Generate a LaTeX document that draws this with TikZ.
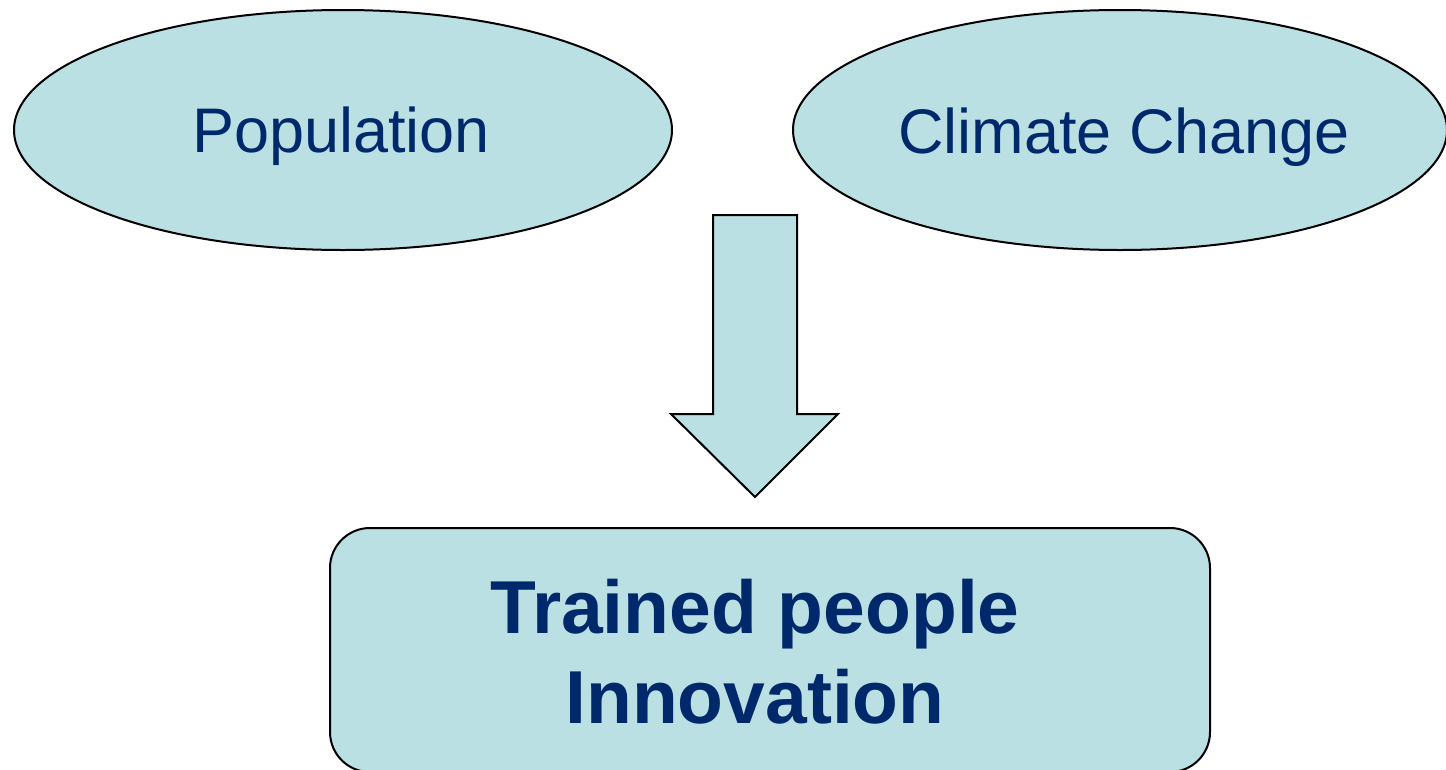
\documentclass[tikz,border=0pt]{standalone}
\usepackage{fontspec}
\setmainfont{Liberation Sans}
\usetikzlibrary{shapes.geometric}
\definecolor{boxfill}{RGB}{186,224,227}
\definecolor{inkblue}{RGB}{0,41,108}
\begin{document}
\begin{tikzpicture}[x=1pt,y=-1pt,
  bubble/.style={ellipse,draw=black,line width=2pt,fill=boxfill,inner sep=0pt},
  plainlabel/.style={anchor=base,text=inkblue,inner sep=0pt,font=\fontsize{63}{70}\selectfont},
  boldlabel/.style={anchor=base,text=inkblue,inner sep=0pt,font=\fontsize{75}{80}\selectfont\bfseries}]
  \useasboundingbox (0,0) rectangle (1446,769);
  \clip (0,0) rectangle (1446,769);
  % the two driving factors
  \node[bubble,minimum width=658pt,minimum height=240pt] (pop) at (343,130) {};
  \node[bubble,minimum width=654pt,minimum height=240pt] (clim) at (1120,130) {};
  \node[plainlabel] (poptext) at (341,152) {Population};
  \node[plainlabel] (climtext) at (1124,153) {Climate Change};
  % block arrow pointing down to the response
  \draw[line width=2pt,fill=boxfill,line join=miter]
    (713,215) -- (797,215) -- (797,414) -- (838,414) -- (755,497)
    -- (671,414) -- (713,414) -- cycle;
  % response box, running past the lower edge
  \draw[line width=2pt,fill=boxfill,rounded corners=40pt]
    (330,528) rectangle (1210,772);
  \node[boldlabel] (trained) at (755,633) {Trained people};
  \node[boldlabel] (innov) at (755,723) {Innovation};
\end{tikzpicture}
\end{document}
